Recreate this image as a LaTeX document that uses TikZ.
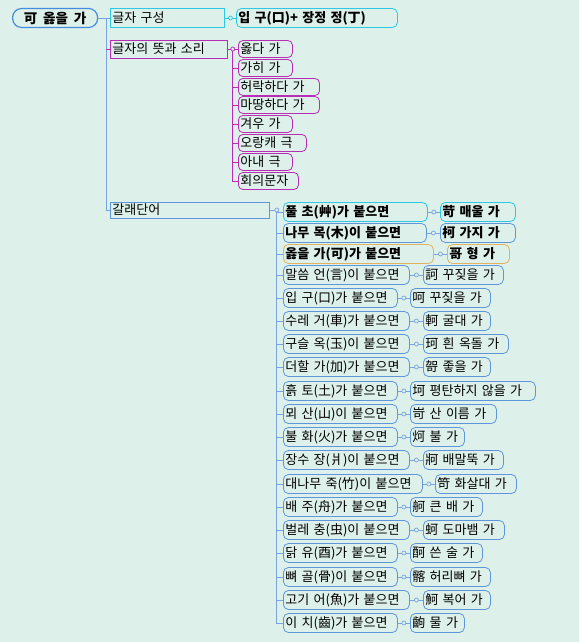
\documentclass[tikz,border=0pt]{standalone}
\usepackage{fontspec}
\setmainfont{Noto Sans CJK KR}[WordSpace=1.9]
\usepackage{xcolor}
\usepackage{tikz}

\definecolor{bg}{RGB}{221,240,233}
\definecolor{rootc}{RGB}{70,140,220}
\definecolor{cyanc}{RGB}{45,200,228}
\definecolor{magc}{RGB}{185,45,180}
\definecolor{bluec}{RGB}{95,150,218}
\definecolor{orangec}{RGB}{228,178,95}
\definecolor{linkc}{RGB}{120,165,225}

\begin{document}
\begin{tikzpicture}[x=1pt, y=-1pt,
        box/.style={rectangle, draw, anchor=west, align=left, inner xsep=2pt, inner ysep=0pt, minimum height=19pt, line width=0.8pt, fill=bg, font=\fontsize{13}{13}\selectfont},
        rootbox/.style={box, draw=rootc, line width=1.2pt, rounded corners=9pt, align=center, font=\fontsize{13.5}{13.5}\selectfont\bfseries},
        partbox/.style={box, draw=cyanc},
        sensebox/.style={box, draw=magc, minimum height=17pt, rounded corners=4.5pt},
        wordbox/.style={box, draw=bluec, rounded corners=5pt},
        link/.style={draw, line width=0.8pt},
        dot/.style={circle, draw, fill=bg, inner sep=0pt, minimum size=4pt, line width=0.7pt}
    ]
        \useasboundingbox [fill=bg] (0, 0) rectangle (579, 642);

        % Nodes
        \node [rootbox, minimum width=85pt] (root) at (12, 18) {可 옳을 가};

        \node [partbox, text width=110pt] (parts) at (110, 18) {글자 구성};
        \node [partbox, rounded corners=5pt, text width=157pt, font=\fontsize{13}{13}\selectfont\bfseries] (partsdef) at (236, 18) {입 구(口)+ 장정 정(丁)};

        \node [box, draw=magc, minimum height=18pt, text width=113pt] (sense) at (110, 49) {글자의 뜻과 소리};
        \node [sensebox, text width=50pt] (s1) at (238, 49) {옳다 가};
        \node [sensebox, text width=50pt] (s2) at (238, 68) {가히 가};
        \node [sensebox, text width=77pt] (s3) at (238, 87) {허락하다 가};
        \node [sensebox, text width=77pt] (s4) at (238, 105) {마땅하다 가};
        \node [sensebox, text width=50pt] (s5) at (238, 124) {겨우 가};
        \node [sensebox, text width=64pt] (s6) at (238, 143) {오랑캐 극};
        \node [sensebox, text width=50pt] (s7) at (238, 162) {아내 극};
        \node [sensebox, text width=56pt] (s8) at (238, 181) {회의문자};

        \node [box, draw=bluec, minimum height=16pt, text width=155pt] (words) at (110, 210) {갈래단어};

        \node [wordbox, draw=cyanc, text width=140pt, font=\fontsize{13}{13}\selectfont\bfseries] (r1) at (283, 212) {풀 초(艸)가 붙으면};
        \node [wordbox, draw=cyanc, text width=71pt, font=\fontsize{13}{13}\selectfont\bfseries] (c1) at (440, 212) {苛 매울 가};
        \node [wordbox, text width=139pt, font=\fontsize{13}{13}\selectfont\bfseries] (r2) at (283, 233) {나무 목(木)이 붙으면};
        \node [wordbox, text width=71pt, font=\fontsize{13}{13}\selectfont\bfseries] (c2) at (440, 233) {柯 가지 가};
        \node [wordbox, draw=orangec, text width=146pt, font=\fontsize{13}{13}\selectfont\bfseries] (r3) at (283, 254) {옳을 가(可)가 붙으면};
        \node [wordbox, draw=orangec, text width=58pt, font=\fontsize{13}{13}\selectfont\bfseries] (c3) at (447, 254) {哥 형 가};

        \node [wordbox, text width=122pt] (r4) at (283, 275) {말씀 언(言)이 붙으면};
        \node [wordbox, text width=76pt] (c4) at (423, 275) {訶 꾸짖을 가};
        \node [wordbox, text width=110pt] (r5) at (283, 298) {입 구(口)가 붙으면};
        \node [wordbox, text width=76pt] (c5) at (410, 298) {呵 꾸짖을 가};
        \node [wordbox, text width=122pt] (r6) at (283, 321) {수레 거(車)가 붙으면};
        \node [wordbox, text width=63pt] (c6) at (423, 321) {軻 굴대 가};
        \node [wordbox, text width=122pt] (r7) at (283, 344) {구슬 옥(玉)이 붙으면};
        \node [wordbox, text width=81pt] (c7) at (423, 344) {珂 흰 옥돌 가};
        \node [wordbox, text width=122pt] (r8) at (283, 367) {더할 가(加)가 붙으면};
        \node [wordbox, text width=63pt] (c8) at (423, 367) {哿 좋을 가};
        \node [wordbox, text width=110pt] (r9) at (283, 391) {흙 토(土)가 붙으면};
        \node [wordbox, text width=121pt] (c9) at (410, 391) {坷 평탄하지 않을 가};
        \node [wordbox, text width=110pt] (r10) at (283, 414) {뫼 산(山)이 붙으면};
        \node [wordbox, text width=82pt] (c10) at (410, 414) {岢 산 이름 가};
        \node [wordbox, text width=110pt] (r11) at (283, 437) {불 화(火)가 붙으면};
        \node [wordbox, text width=50pt] (c11) at (410, 437) {炣 불 가};
        \node [wordbox, text width=122pt] (r12) at (283, 460) {장수 장(爿)이 붙으면};
        \node [wordbox, text width=76pt] (c12) at (423, 460) {牁 배말뚝 가};
        \node [wordbox, text width=135pt] (r13) at (283, 484) {대나무 죽(竹)이 붙으면};
        \node [wordbox, text width=77pt] (c13) at (435, 484) {笴 화살대 가};
        \node [wordbox, text width=110pt] (r14) at (283, 507) {배 주(舟)가 붙으면};
        \node [wordbox, text width=68pt] (c14) at (410, 507) {舸 큰 배 가};
        \node [wordbox, text width=122pt] (r15) at (283, 530) {벌레 충(虫)이 붙으면};
        \node [wordbox, text width=77pt] (c15) at (423, 530) {蚵 도마뱀 가};
        \node [wordbox, text width=110pt] (r16) at (283, 553) {닭 유(酉)가 붙으면};
        \node [wordbox, text width=68pt] (c16) at (410, 553) {酠 쓴 술 가};
        \node [wordbox, text width=110pt] (r17) at (283, 577) {뼈 골(骨)이 붙으면};
        \node [wordbox, text width=76pt] (c17) at (410, 577) {髂 허리뼈 가};
        \node [wordbox, text width=122pt] (r18) at (283, 600) {고기 어(魚)가 붙으면};
        \node [wordbox, text width=63pt] (c18) at (423, 600) {魺 복어 가};
        \node [wordbox, text width=110pt] (r19) at (283, 623) {이 치(齒)가 붙으면};
        \node [wordbox, text width=50pt] (c19) at (410, 623) {齣 물 가};

        % Connections
        \path [link, draw=linkc] (root.east) -- ++(8, 0) coordinate (rj) |- (words.west);
        \path [link, draw=linkc] (rj) -- (parts.west);
        \path [link, draw=magc] (sense.west -| rj) -- (sense.west);

        \path [link, draw=cyanc] (parts) -- node[dot, draw=cyanc] {} (partsdef);

        \path [link, draw=magc] (sense.east) -- ++(5, 0) coordinate (sj) |- (s8.west);
        \path [link, draw=magc] (sj) -- (s1.west);
        \path [link, draw=magc] (sj) |- (s2.west);
        \path [link, draw=magc] (sj) |- (s3.west);
        \path [link, draw=magc] (sj) |- (s4.west);
        \path [link, draw=magc] (sj) |- (s5.west);
        \path [link, draw=magc] (sj) |- (s6.west);
        \path [link, draw=magc] (sj) |- (s7.west);
        \node [dot, draw=magc] at (sj) {};

        \path [link, draw=linkc] (words.east) -- ++(7, 0) coordinate (wj) |- (r19.west);
        \path [link, draw=linkc] (wj) |- (r1.west);
        \path [link, draw=linkc] (wj) |- (r2.west);
        \path [link, draw=linkc] (wj) |- (r3.west);
        \path [link, draw=linkc] (wj) |- (r4.west);
        \path [link, draw=linkc] (wj) |- (r5.west);
        \path [link, draw=linkc] (wj) |- (r6.west);
        \path [link, draw=linkc] (wj) |- (r7.west);
        \path [link, draw=linkc] (wj) |- (r8.west);
        \path [link, draw=linkc] (wj) |- (r9.west);
        \path [link, draw=linkc] (wj) |- (r10.west);
        \path [link, draw=linkc] (wj) |- (r11.west);
        \path [link, draw=linkc] (wj) |- (r12.west);
        \path [link, draw=linkc] (wj) |- (r13.west);
        \path [link, draw=linkc] (wj) |- (r14.west);
        \path [link, draw=linkc] (wj) |- (r15.west);
        \path [link, draw=linkc] (wj) |- (r16.west);
        \path [link, draw=linkc] (wj) |- (r17.west);
        \path [link, draw=linkc] (wj) |- (r18.west);
        \node [dot, draw=linkc] at (wj) {};

        % one short link with a ring between a radical and its character
        \path [link, draw=linkc] (r1) -- node[dot, draw=linkc] {} (c1);
        \path [link, draw=linkc] (r2) -- node[dot, draw=linkc] {} (c2);
        \path [link, draw=linkc] (r3) -- node[dot, draw=linkc] {} (c3);
        \path [link, draw=linkc] (r4) -- node[dot, draw=linkc] {} (c4);
        \path [link, draw=linkc] (r5) -- node[dot, draw=linkc] {} (c5);
        \path [link, draw=linkc] (r6) -- node[dot, draw=linkc] {} (c6);
        \path [link, draw=linkc] (r7) -- node[dot, draw=linkc] {} (c7);
        \path [link, draw=linkc] (r8) -- node[dot, draw=linkc] {} (c8);
        \path [link, draw=linkc] (r9) -- node[dot, draw=linkc] {} (c9);
        \path [link, draw=linkc] (r10) -- node[dot, draw=linkc] {} (c10);
        \path [link, draw=linkc] (r11) -- node[dot, draw=linkc] {} (c11);
        \path [link, draw=linkc] (r12) -- node[dot, draw=linkc] {} (c12);
        \path [link, draw=linkc] (r13) -- node[dot, draw=linkc] {} (c13);
        \path [link, draw=linkc] (r14) -- node[dot, draw=linkc] {} (c14);
        \path [link, draw=linkc] (r15) -- node[dot, draw=linkc] {} (c15);
        \path [link, draw=linkc] (r16) -- node[dot, draw=linkc] {} (c16);
        \path [link, draw=linkc] (r17) -- node[dot, draw=linkc] {} (c17);
        \path [link, draw=linkc] (r18) -- node[dot, draw=linkc] {} (c18);
        \path [link, draw=linkc] (r19) -- node[dot, draw=linkc] {} (c19);

    \end{tikzpicture}
\end{document}
